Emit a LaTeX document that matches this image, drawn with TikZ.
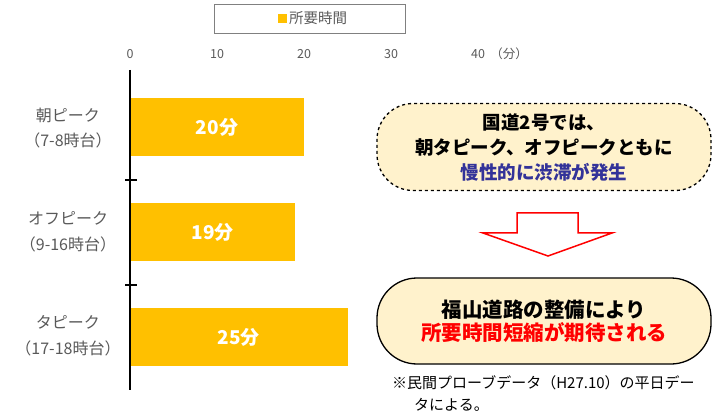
\documentclass[tikz,border=0pt]{standalone}
\usepackage{fontspec}
\setmainfont{Noto Sans CJK JP}
\usepackage{xcolor}
\usepackage{tikz}
\usetikzlibrary{positioning}

\definecolor{barc}{HTML}{FFC000}
\definecolor{txtgray}{HTML}{595959}
\definecolor{boxfill}{HTML}{FFF2CC}
\definecolor{navy}{HTML}{333399}

\begin{document}
\begin{tikzpicture}[x=1pt, y=-1pt,
    ticklbl/.style={text=txtgray, font=\fontsize{12.5}{12.5}\selectfont, inner sep=1pt},
    catlbl/.style={text=txtgray, align=center, font=\fontsize{16}{25.5}\selectfont},
    barlbl/.style={text=white, font=\bfseries\fontsize{19}{19}\selectfont},
    msgbox/.style={fill=boxfill, minimum width=334pt, align=center, inner sep=0pt},
    notelbl/.style={font=\fontsize{15}{15}\selectfont, inner sep=0pt, anchor=west}]
    % Define coordinates
    \def\ax{130} % x of the zero line
    \def\xs{8.7} % width of one minute
    \def\bh{58}  % bar height
    \useasboundingbox (0,0) rectangle (712,414);

    % Legend
    \node[draw=gray, line width=0.8pt, minimum width=191pt, minimum height=29pt] (legend) at (309.5,18.5) {};
    \node[text=txtgray, font=\fontsize{14.5}{14.5}\selectfont, inner sep=0pt] (legtext) at (318,18.5) {所要時間};
    \node[fill=barc, minimum size=9pt, inner sep=0pt, left=2pt of legtext] (legkey) {};

    % Scale
    \foreach \v in {0,10,...,40} {
        \node[ticklbl] (t\v) at (\ax+\v*\xs,54) {\v};
    }
    \node[ticklbl, right=3pt of t40] (unit) {（分）};

    % Bars (minutes / top edge / name)
    \foreach \v/\t/\n in {20/98/morning, 19/203/off, 25/308/evening} {
        \fill[barc] (\ax,\t) rectangle (\ax+\v*\xs,\t+\bh);
        \node[barlbl] (v\n) at (\ax+\v*\xs/2,\t+\bh/2) {\v 分};
    }

    % Axis
    \draw[line width=2.2pt] (\ax,70) -- (\ax,390);
    \foreach \y in {180,285} {
        \draw[line width=1.4pt] (\ax-5,\y) -- (\ax+7,\y);
    }

    % Categories
    \node[catlbl] (cmorning) at (68,128) {朝ピーク\\（7-8時台）};
    \node[catlbl] (coff) at (68,232) {オフピーク\\（9-16時台）};
    \node[catlbl] (cevening) at (68,336) {タピーク\\（17-18時台）};

    % Messages
    \node[msgbox, draw, dashed, line width=1.3pt, minimum height=87pt, rounded corners=36pt,
          font=\bfseries\fontsize{18.5}{25}\selectfont] (issue) at (544,147)
        {国道2号では、\\朝タピーク、オフピークともに\\\textcolor{navy}{慢性的に渋滞が発生}};
    \node[msgbox, draw, line width=1.3pt, minimum height=86pt, rounded corners=40pt,
          font=\bfseries\fontsize{20.5}{23.5}\selectfont] (effect) at (544,321)
        {福山道路の整備により\\\textcolor{red}{所要時間短縮が期待される}};

    % Block arrow
    \draw[red, line width=1.5pt, fill=white, line join=miter]
        (517,213) -- (578,213) -- (578,233) -- (612,233) -- (548,256)
        -- (483,233) -- (517,233) -- cycle;

    % Note
    \node[notelbl] (note1) at (392,383) {※民間プローブデータ（H27.10）の平日デー};
    \node[notelbl] (note2) at (414,405) {タによる。};
\end{tikzpicture}
\end{document}
